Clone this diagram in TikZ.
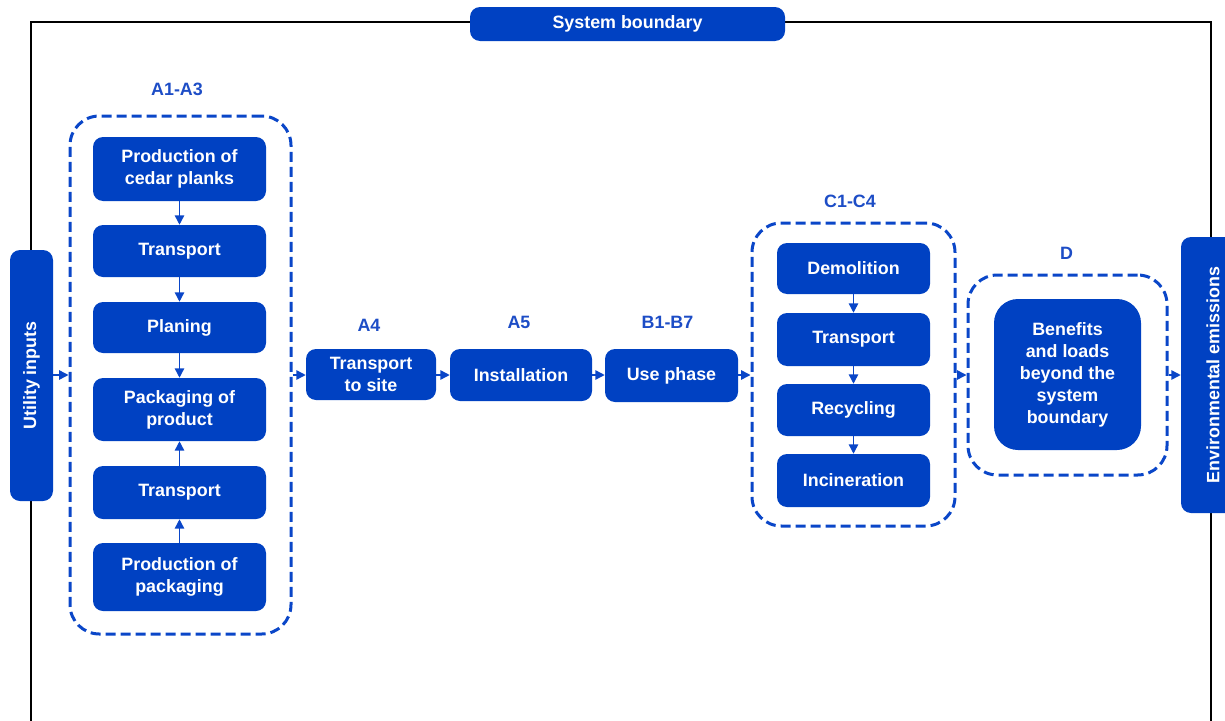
\documentclass[tikz,border=0pt]{standalone}
\usepackage{fontspec}
\setmainfont{Liberation Sans}
\usetikzlibrary{arrows.meta}
\definecolor{boxblue}{HTML}{0041C2}
\definecolor{lblblue}{HTML}{1D4DC6}
\definecolor{dashblue}{HTML}{0A46C8}
\tikzset{
  x=0.75pt, y=-0.75pt,
  sz/.style 2 args={minimum width=#1*0.75pt, minimum height=#2*0.75pt},
  box/.style={fill=boxblue, draw=none, rounded corners=7.5pt, inner sep=0pt,
    text=white, font=\bfseries\fontsize{13.4}{16.5}\selectfont, align=center},
  group/.style={draw=dashblue, line width=2.25pt, dash pattern=on 7.5pt off 3.75pt,
    rounded corners=22pt, inner sep=0pt},
  lbl/.style={text=lblblue, font=\bfseries\fontsize{13.4}{16}\selectfont},
  flow/.style={draw=dashblue, line width=1.1pt, -{Triangle[length=7pt,width=7pt]}},
  frame/.style={draw=black, line width=1.5pt}
}
\begin{document}
\begin{tikzpicture}
\useasboundingbox (0,0) rectangle (1225,721);
\clip (0,0) rectangle (1225,721);
% outer frame
\draw[frame] (31,721) -- (31,22) -- (1211,22) -- (1211,721);
\node[box, sz={315}{34}] (sb) at (627.5,24) {System boundary};
% side boxes
\node[box, sz={43}{251}] (ui) at (31.5,375.5) {\rotatebox{90}{Utility inputs}};
\node[box, sz={64}{276}] (ee) at (1213,375) {\rotatebox{90}{Environmental emissions}};
% A1-A3
\node[lbl] (lA) at (177,89) {A1-A3};
\node[group, sz={221}{518}] (gA) at (180.5,375) {};
\node[box, sz={173}{64}] (p1) at (179.5,169) {Production of\\cedar planks};
\node[box, sz={173}{52}] (t1) at (179.5,251) {Transport};
\node[box, sz={173}{51}] (pl) at (179.5,327.5) {Planing};
\node[box, sz={173}{63}] (pk) at (179.5,409.5) {Packaging of\\product};
\node[box, sz={173}{53}] (t2) at (179.5,492.5) {Transport};
\node[box, sz={173}{68}] (p2) at (179.5,577) {Production of\\packaging};
% A4, A5, B
\node[lbl] (lA4) at (369,325) {A4};
\node[box, sz={130}{51}] (ts) at (371,374.5) {Transport\\to site};
\node[lbl] (lA5) at (519,322) {A5};
\node[box, sz={142}{52}] (in) at (521,375) {Installation};
\node[lbl] (lB) at (667.5,322) {B1-B7};
\node[box, sz={133}{53}] (up) at (671.5,375.5) {Use phase};
% C1-C4
\node[lbl] (lC) at (850,201) {C1-C4};
\node[group, sz={203}{303}] (gC) at (853.5,374.5) {};
\node[box, sz={153}{51}] (de) at (853.5,268.5) {Demolition};
\node[box, sz={153}{53}] (tr) at (853.5,339.5) {Transport};
\node[box, sz={153}{52}] (re) at (853.5,410) {Recycling};
\node[box, sz={153}{53}] (ic) at (853.5,480.5) {Incineration};
% D
\node[lbl] (lD) at (1066.5,253) {D};
\node[group, sz={199}{200}] (gD) at (1067.5,375) {};
\node[box, rounded corners=18pt, sz={147}{151}] (be) at (1067.5,374.5) {Benefits\\and loads\\beyond the\\system\\boundary};
% arrows
\draw[flow] (p1) -- (t1);
\draw[flow] (t1) -- (pl);
\draw[flow] (pl) -- (pk);
\draw[flow] (t2) -- (pk);
\draw[flow] (p2) -- (t2);
\draw[flow] (de) -- (tr);
\draw[flow] (tr) -- (re);
\draw[flow] (re) -- (ic);
\draw[flow] (ui.east |- 0,375) -- (gA.west |- 0,375);
\draw[flow] (gA.east |- 0,375) -- (ts.west |- 0,375);
\draw[flow] (ts.east |- 0,375) -- (in.west |- 0,375);
\draw[flow] (in.east |- 0,375) -- (up.west |- 0,375);
\draw[flow] (up.east |- 0,375) -- (gC.west |- 0,375);
\draw[flow] (gC.east |- 0,375) -- (gD.west |- 0,375);
\draw[flow] (gD.east |- 0,375) -- (ee.west |- 0,375);
\end{tikzpicture}
\end{document}
